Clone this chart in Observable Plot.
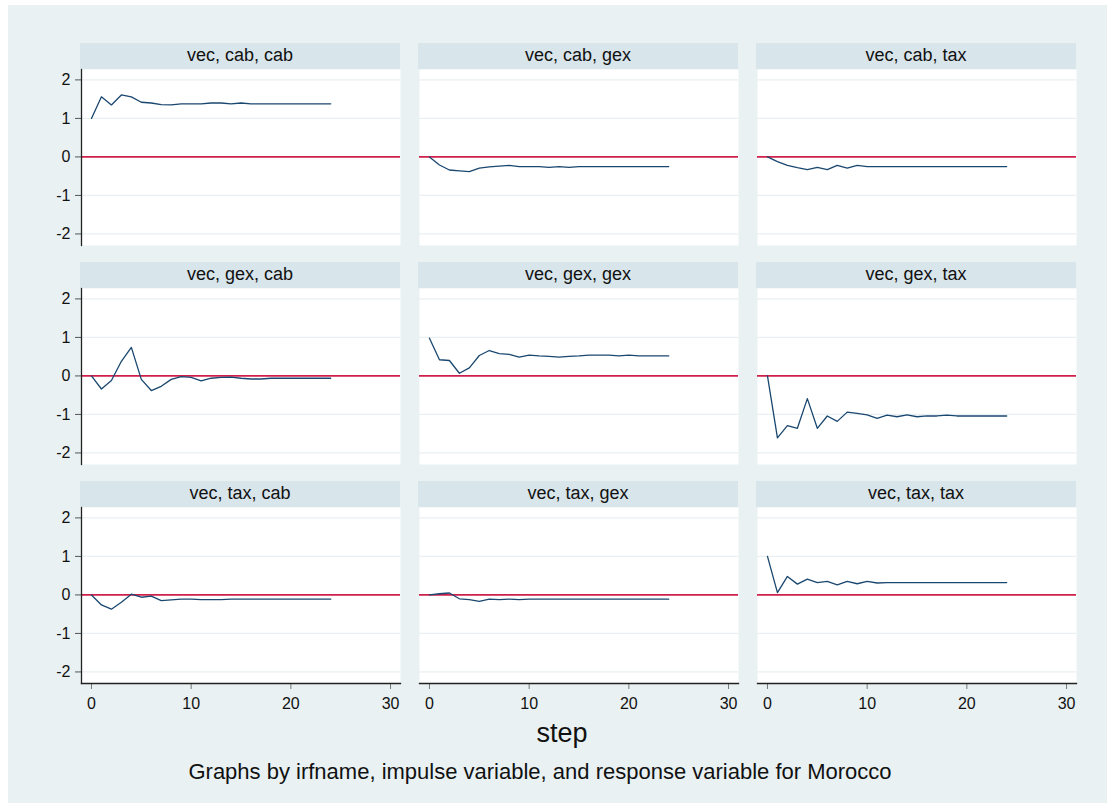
<!DOCTYPE html>
<html>
<head>
<meta charset="utf-8">
<script src="https://cdn.jsdelivr.net/npm/d3@7"></script>
<script src="https://cdn.jsdelivr.net/npm/@observablehq/plot@0.6"></script>
<style>
  html, body { margin: 0; padding: 0; background: #ffffff; }
  #graph { position: relative; width: 1115px; height: 808px; background: #ffffff; overflow: hidden;
           font-family: "Liberation Sans", Arial, sans-serif; }
  #region { position: absolute; left: 8px; top: 5px; width: 1099px; height: 798px; background: #e9f1f3; }
  .strip { position: absolute; height: 26px; line-height: 25px; background: #d8e5eb; color: #111;
           text-align: center; font-size: 18px; }
  .panel { position: absolute; }
  .panel svg { display: block; overflow: visible; }
  #xtitle { position: absolute; width: 200px; text-align: center; font-size: 27px; color: #111; }
  #caption { position: absolute; width: 1000px; text-align: center; font-size: 22px; color: #111; }
</style>
</head>
<body>
<div id="graph"><div id="region"></div></div>
<script>
// Impulse-response functions (irfname "vec"), steps 0..24
const steps = d3.range(0, 25);
const variables = ["cab", "gex", "tax"];

// impulse: cab
const cab_cab = [1.00, 1.56, 1.35, 1.61, 1.56, 1.42, 1.40, 1.36, 1.35, 1.38, 1.38, 1.38, 1.40, 1.40, 1.38, 1.40, 1.38, 1.38, 1.38, 1.38, 1.38, 1.38, 1.38, 1.38, 1.38];
const cab_gex = [0.00, -0.21, -0.34, -0.36, -0.38, -0.29, -0.26, -0.24, -0.22, -0.25, -0.25, -0.25, -0.27, -0.25, -0.27, -0.25, -0.25, -0.25, -0.25, -0.25, -0.25, -0.25, -0.25, -0.25, -0.25];
const cab_tax = [0.00, -0.12, -0.22, -0.28, -0.33, -0.27, -0.33, -0.22, -0.29, -0.22, -0.25, -0.25, -0.25, -0.25, -0.25, -0.25, -0.25, -0.25, -0.25, -0.25, -0.25, -0.25, -0.25, -0.25, -0.25];
// impulse: gex
const gex_cab = [0.00, -0.34, -0.12, 0.38, 0.74, -0.09, -0.38, -0.27, -0.09, -0.02, -0.04, -0.13, -0.06, -0.04, -0.03, -0.06, -0.08, -0.08, -0.06, -0.06, -0.06, -0.06, -0.06, -0.06, -0.06];
const gex_gex = [0.98, 0.42, 0.40, 0.07, 0.21, 0.53, 0.66, 0.58, 0.56, 0.49, 0.54, 0.52, 0.51, 0.49, 0.51, 0.52, 0.54, 0.54, 0.54, 0.52, 0.54, 0.52, 0.52, 0.52, 0.52];
const gex_tax = [0.00, -1.61, -1.29, -1.36, -0.59, -1.36, -1.04, -1.18, -0.94, -0.97, -1.01, -1.10, -1.02, -1.06, -1.01, -1.06, -1.04, -1.04, -1.02, -1.04, -1.04, -1.04, -1.04, -1.04, -1.04];
// impulse: tax
const tax_cab = [0.00, -0.26, -0.37, -0.19, 0.02, -0.06, -0.03, -0.15, -0.13, -0.11, -0.11, -0.12, -0.12, -0.12, -0.11, -0.11, -0.11, -0.11, -0.11, -0.11, -0.11, -0.11, -0.11, -0.11, -0.11];
const tax_gex = [0.00, 0.03, 0.05, -0.10, -0.12, -0.17, -0.11, -0.12, -0.11, -0.12, -0.11, -0.11, -0.11, -0.11, -0.11, -0.11, -0.11, -0.11, -0.11, -0.11, -0.11, -0.11, -0.11, -0.11, -0.11];
const tax_tax = [1.00, 0.06, 0.48, 0.28, 0.41, 0.32, 0.35, 0.26, 0.35, 0.29, 0.35, 0.31, 0.32, 0.32, 0.32, 0.32, 0.32, 0.32, 0.32, 0.32, 0.32, 0.32, 0.32, 0.32, 0.32];

const series = {cab_cab, cab_gex, cab_tax, gex_cab, gex_gex, gex_tax, tax_cab, tax_gex, tax_tax};

const xTicks = [0, 10, 20, 30];
const yTicks = [-2, -1, 0, 1, 2];
const xTitle = "step";
const caption = "Graphs by irfname, impulse variable, and response variable for Morocco";

// Panel geometry
const colLeft = [81, 419, 757];
const rowTop = [69, 288, 507];
const plotW = 319, plotH = 176, stripH = 26, leftM = 40, bottomM = 45;

const navy = "#1a476f", red = "#cf1f4b", grid = "#e8f0f3", axisInk = "#222";
const plain = d => String(d); // ASCII hyphen for negative labels
const graph = document.getElementById("graph");

variables.forEach((impulse, r) => {
  variables.forEach((response, c) => {
    const values = series[`${impulse}_${response}`];
    const data = steps.map((s, i) => ({step: s, irf: values[i]}));
    const isLeft = c === 0, isBottom = r === 2;

    const strip = document.createElement("div");
    strip.className = "strip";
    strip.style.left = (colLeft[c] - 1) + "px";
    strip.style.top = (rowTop[r] - stripH) + "px";
    strip.style.width = (plotW + 1) + "px";
    strip.textContent = `vec, ${impulse}, ${response}`;
    graph.appendChild(strip);

    const chart = Plot.plot({
      width: plotW + leftM,
      height: plotH + (isBottom ? bottomM : 0),
      marginLeft: leftM, marginRight: 0, marginTop: 0, marginBottom: isBottom ? bottomM : 0,
      style: {background: "transparent", fontFamily: "'Liberation Sans', Arial, sans-serif", fontSize: "16px", color: "#111"},
      x: {domain: [-1, 31], axis: null},
      y: {domain: [-2.3, 2.27], axis: null},
      marks: [
        Plot.frame({fill: "white", stroke: null}),
        Plot.ruleY(yTicks.filter(d => d !== 0), {stroke: grid, strokeWidth: 1.2}),
        Plot.ruleY([0], {stroke: red, strokeWidth: 1.6}),
        Plot.line(data, {x: "step", y: "irf", stroke: navy, strokeWidth: 1.3}),
        isLeft ? Plot.axisY(yTicks, {tickSize: 6, tickPadding: 5, tickFormat: plain, stroke: "#555", fill: "#111", fontSize: 16, label: null}) : null,
        isLeft ? Plot.frame({anchor: "left", stroke: axisInk, strokeWidth: 1.3}) : null,
        isBottom ? Plot.axisX(xTicks, {tickSize: 6, tickPadding: 8, tickFormat: plain, stroke: "#777", fill: "#111", fontSize: 16, label: null}) : null,
        isBottom ? Plot.frame({anchor: "bottom", stroke: axisInk, strokeWidth: 1.3}) : null
      ]
    });
    const holder = document.createElement("div");
    holder.className = "panel";
    holder.style.left = (colLeft[c] - leftM) + "px";
    holder.style.top = rowTop[r] + "px";
    holder.appendChild(chart);
    graph.appendChild(holder);
  });
});

// x title and note, each centred on its own x position
const xt = document.createElement("div");
xt.id = "xtitle";
xt.style.left = (562 - 100) + "px";
xt.style.top = "718px";
xt.textContent = xTitle;
graph.appendChild(xt);

const cap = document.createElement("div");
cap.id = "caption";
cap.style.left = (540 - 500) + "px";
cap.style.top = "759px";
cap.textContent = caption;
graph.appendChild(cap);
</script>
</body>
</html>
